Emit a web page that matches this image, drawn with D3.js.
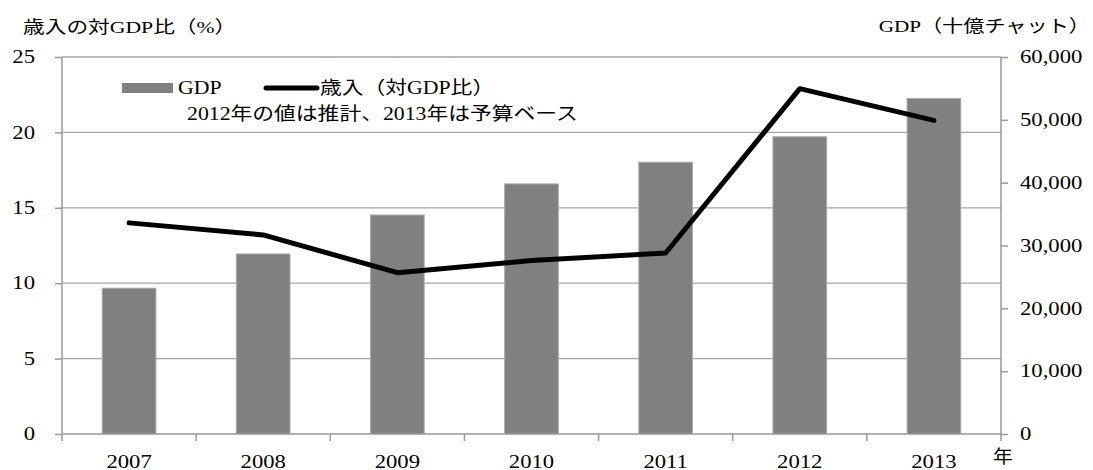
<!DOCTYPE html>
<html>
<head>
<meta charset="utf-8">
<script src="https://cdn.jsdelivr.net/npm/d3@7"></script>
<style>
  body { margin: 0; background: #fff; }
  svg text { font-family: "Liberation Serif", "Times New Roman", "Noto Sans CJK JP", serif; fill: #000; }
</style>
</head>
<body>
<script>
const years = ["2007", "2008", "2009", "2010", "2011", "2012", "2013"];
const gdp = [23200, 28650, 34850, 39800, 43250, 47300, 53400];
const revenueRatio = [14.0, 13.2, 10.7, 11.5, 12.0, 22.9, 20.8];
const leftTicks = [0, 5, 10, 15, 20, 25];
const rightTicks = [0, 10000, 20000, 30000, 40000, 50000, 60000];

const w = 1093, h = 470;
const pLeft = 62, pRight = 1001, pTop = 57, pBottom = 434;
const gray = "#999";
const fontFam = '"Liberation Serif", "Times New Roman", "Noto Sans CJK JP", serif';

// the source picture is wider than tall, widen glyphs around their anchor
const stretch = (sel, k) => sel.each(function () {
  const t = d3.select(this);
  const x = +t.attr("x") || 0;
  t.attr("x", 0).attr("transform", `translate(${x},0) scale(${k},1)`);
});

const svg = d3.select("body").append("svg")
  .attr("width", w)
  .attr("height", h);

const xScale = d3.scaleBand()
  .domain(years)
  .range([pLeft, pRight])
  .paddingInner(0.6)
  .paddingOuter(0.3);

const yLeft = d3.scaleLinear().domain([0, 25]).range([pBottom, pTop]);
const yRight = d3.scaleLinear().domain([0, 60000]).range([pBottom, pTop]);

// gridlines
svg.append("g")
  .selectAll("line")
  .data(leftTicks.filter(d => d > 0))
  .enter()
  .append("line")
  .attr("x1", pLeft).attr("x2", pRight)
  .attr("y1", d => yLeft(d)).attr("y2", d => yLeft(d))
  .attr("stroke", "#a6a6a6")
  .attr("stroke-width", 1.3);

// left axis
const yAxisL = d3.axisLeft(yLeft).tickValues(leftTicks).tickSize(7).tickPadding(20);
const gL = svg.append("g")
  .attr("transform", `translate(${pLeft},0)`)
  .call(yAxisL);

// right axis
const yAxisR = d3.axisRight(yRight).tickValues(rightTicks).tickSize(7).tickPadding(12)
  .tickFormat(d3.format(","));
const gR = svg.append("g")
  .attr("transform", `translate(${pRight},0)`)
  .call(yAxisR);

// x axis, ticks at category boundaries
const step = xScale.step();
const xAxis = d3.axisBottom(xScale).tickSize(0).tickPadding(21);
const gX = svg.append("g")
  .attr("transform", `translate(0,${pBottom})`)
  .call(xAxis);
gX.selectAll(".bound")
  .data(d3.range(years.length + 1))
  .enter()
  .append("line")
  .attr("class", "bound")
  .attr("x1", i => pLeft + i * step).attr("x2", i => pLeft + i * step)
  .attr("y1", 0).attr("y2", 7)
  .attr("stroke", gray).attr("stroke-width", 1.5);

[gL, gR, gX].forEach(g => {
  g.attr("font-family", fontFam);
  g.select(".domain").attr("stroke", gray).attr("stroke-width", 1.5);
  g.selectAll(".tick line").attr("stroke", gray).attr("stroke-width", 1.5);
  g.selectAll("text").attr("font-size", 18).style("font-family", fontFam);
  stretch(g.selectAll("text"), 1.26);
});
gX.select(".domain").attr("d", `M${pLeft},0H${pRight}`);
gL.select(".domain").attr("d", `M0,${pTop}V${pBottom}`);
gR.select(".domain").attr("d", `M0,${pTop}V${pBottom}`);

// bars
svg.append("g")
  .selectAll("rect")
  .data(gdp)
  .enter()
  .append("rect")
  .attr("x", (d, i) => xScale(years[i]))
  .attr("y", d => yRight(d))
  .attr("width", xScale.bandwidth())
  .attr("height", d => yRight(0) - yRight(d))
  .attr("fill", "#808080")
  .attr("stroke", "#a8a8a8")
  .attr("stroke-width", 1);

// line
const line = d3.line()
  .x((d, i) => xScale(years[i]) + xScale.bandwidth() / 2)
  .y(d => yLeft(d));
svg.append("path")
  .datum(revenueRatio)
  .attr("d", line)
  .attr("fill", "none")
  .attr("stroke", "#000")
  .attr("stroke-width", 5)
  .attr("stroke-linejoin", "round")
  .attr("stroke-linecap", "round");

// axis titles
const tL = svg.append("text")
  .attr("x", 23).attr("y", 33)
  .attr("font-size", 17.5)
  .text("歳入の対GDP比（%）");
const tR = svg.append("text")
  .attr("x", 1090).attr("y", 32)
  .attr("text-anchor", "end")
  .attr("font-size", 17.5)
  .text("GDP（十億チャット）");
const tY = svg.append("text")
  .attr("x", 1003).attr("y", 463)
  .attr("text-anchor", "middle")
  .attr("font-size", 18)
  .text("年");
stretch(tL, 1.24);
stretch(tR, 1.21);
stretch(tY, 1.1);

// legend
const lg = svg.append("g");
lg.append("rect")
  .attr("x", 122).attr("y", 83)
  .attr("width", 51).attr("height", 10)
  .attr("fill", "#808080");
lg.append("text")
  .attr("x", 178).attr("y", 94)
  .attr("font-size", 18)
  .text("GDP");
lg.append("line")
  .attr("x1", 266).attr("x2", 317)
  .attr("y1", 88).attr("y2", 88)
  .attr("stroke", "#000").attr("stroke-width", 5)
  .attr("stroke-linecap", "round");
lg.append("text")
  .attr("x", 320).attr("y", 94)
  .attr("font-size", 18)
  .text("歳入（対GDP比）");
lg.append("text")
  .attr("x", 187).attr("y", 120)
  .attr("font-size", 18)
  .text("2012年の値は推計、2013年は予算ベース");
stretch(lg.selectAll("text"), 1.21);
</script>
</body>
</html>
